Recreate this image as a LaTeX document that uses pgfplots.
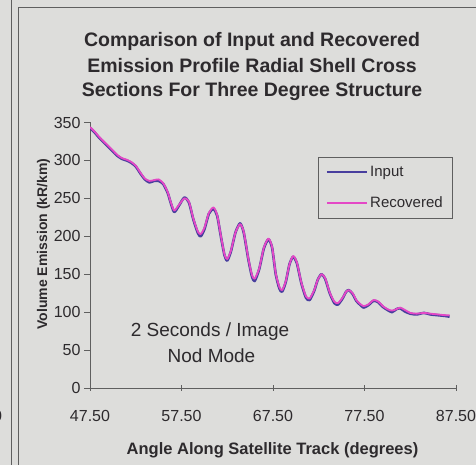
\documentclass[border=0pt]{standalone}
\usepackage{fontspec}
\setmainfont{Liberation Sans}
\usepackage{pgfplots}
\usepackage{pgfplotstable}
\pgfplotsset{compat=1.18}
\definecolor{bg}{RGB}{221,221,219}
\definecolor{inblue}{RGB}{72,62,158}
\definecolor{recmag}{RGB}{228,72,198}
\definecolor{txt}{RGB}{45,42,45}
\definecolor{axl}{RGB}{95,95,95}

\pgfplotstableread{
x v
47.5 343
48.0 337
48.5 330
49.0 324
49.5 318
50.0 312
50.5 306
51.0 302
51.5 300
52.0 297
52.5 292
53.0 283
53.5 275
54.0 271
54.5 273
55.0 273
55.5 269
56.0 257
56.3 245
56.7 232
57.2 240
57.8 251
58.3 245
58.8 222
59.3 204
59.6 200
60.0 209
60.5 230
61.0 236
61.4 227
61.8 200
62.2 175
62.5 168
62.9 180
63.4 205
63.9 217
64.3 205
64.8 170
65.2 147
65.5 141
66.0 157
66.5 184
67.0 196
67.4 185
67.8 150
68.2 131
68.5 127
68.9 140
69.3 163
69.7 173
70.1 165
70.6 138
71.1 119
71.5 116
72.0 128
72.4 143
72.8 150
73.2 144
73.7 125
74.2 112
74.6 110
75.1 118
75.5 127
75.8 129
76.2 124
76.6 115
77.0 110
77.4 106
77.9 109
78.5 115
79.0 113
79.5 107
80.0 103
80.5 100
81.0 104
81.4 105
81.9 101
82.5 98
83.2 97
84.0 99
84.7 97
85.5 96
86.3 95
86.8 94
}\inputdata

\pgfplotstableread{
x v
47.5 344
48.0 338
48.5 331
49.0 325
49.5 319
50.0 313
50.5 307
51.0 303
51.5 301
52.0 298
52.5 293
53.0 284
53.5 276
54.0 273
54.5 274
55.0 275
55.5 270
56.0 258
56.3 246
56.7 234
57.2 241
57.8 250
58.3 246
58.8 223
59.3 206
59.6 203
60.0 211
60.5 231
61.0 238
61.4 228
61.8 201
62.2 176
62.5 170
62.9 181
63.4 205
63.9 216
64.3 206
64.8 171
65.2 149
65.5 144
66.0 158
66.5 185
67.0 197
67.4 186
67.8 151
68.2 133
68.5 129
68.9 141
69.3 163
69.7 174
70.1 166
70.6 139
71.1 121
71.5 118
72.0 129
72.4 143
72.8 150
73.2 145
73.7 126
74.2 114
74.6 112
75.1 119
75.5 127
75.8 129
76.2 125
76.6 116
77.0 111
77.4 108
77.9 110
78.5 116
79.0 114
79.5 108
80.0 104
80.5 102
81.0 104
81.4 106
81.9 103
82.5 99
83.2 98
84.0 99
84.7 98
85.5 97
86.3 96
86.8 96
}\recdata

\begin{document}
\begin{tikzpicture}[x=1pt,y=1pt]
\fill[bg] (0,0) rectangle (476,465);
\path[use as bounding box] (0,0) rectangle (476,465);
\draw[axl, line width=0.8] (11.7,0) -- (11.7,465);
\draw[axl, line width=0.8] (18.3,0) -- (18.3,458) -- (476,458);
\node[anchor=base east, txt, font=\fontsize{16}{16}\selectfont] at (5.5,43) {87.50};
\begin{axis}[
  at={(90pt,77pt)}, anchor=south west,
  scale only axis, width=366pt, height=265.5pt,
  xmin=47.5, xmax=87.5, ymin=0, ymax=350,
  axis x line*=bottom, axis y line*=left,
  axis line style={axl, line width=0.8pt},
  xtick={47.5,57.5,67.5,77.5,87.5},
  ytick={0,50,...,350},
  xtick align=center, ytick align=outside,
  major tick length=6pt,
  tick style={axl, line width=0.8pt},
  xticklabel style={/pgf/number format/fixed, /pgf/number format/fixed zerofill, /pgf/number format/precision=2, yshift=-16pt},
  /pgf/number format/assume math mode=true,
  ticklabel style={txt, font=\fontsize{16}{16}\selectfont},
  legend style={at={(0.989,0.870)}, anchor=north east, draw=axl, fill=bg,
     font=\fontsize{15}{15}\selectfont, text=txt, inner xsep=7pt, inner ysep=7pt,
     row sep=15pt, cells={anchor=west}},
  legend image code/.code={\draw[#1] (0pt,0pt) -- (40pt,0pt);},
]
\addplot[inblue, line width=2.6pt, line join=round, smooth, tension=0.4] table[x=x,y=v] {\inputdata};
\addlegendentry{Input}
\addplot[recmag, line width=1.8pt, line join=round, smooth, tension=0.4] table[x=x,y=v] {\recdata};
\addlegendentry{Recovered}
\end{axis}
\node[anchor=base, txt, font=\fontsize{19.5}{19.5}\selectfont\bfseries] at (252,418) {Comparison of Input and Recovered};
\node[anchor=base, txt, font=\fontsize{19.5}{19.5}\selectfont\bfseries] at (252,392) {Emission Profile Radial Shell Cross};
\node[anchor=base, txt, font=\fontsize{19.5}{19.5}\selectfont\bfseries] at (252,368) {Sections For Three Degree Structure};
\node[anchor=base, txt, font=\fontsize{16.5}{16.5}\selectfont\bfseries] at (272.5,10) {Angle Along Satellite Track (degrees)};
\node[anchor=base, rotate=90, txt, font=\fontsize{14}{14}\selectfont\bfseries] at (47,221) {Volume Emission (kR/km)};
\node[anchor=base, txt, font=\fontsize{19}{19}\selectfont] at (210,128) {2 Seconds / Image};
\node[anchor=base, txt, font=\fontsize{19}{19}\selectfont] at (211.5,102) {Nod Mode};
\end{tikzpicture}
\end{document}
